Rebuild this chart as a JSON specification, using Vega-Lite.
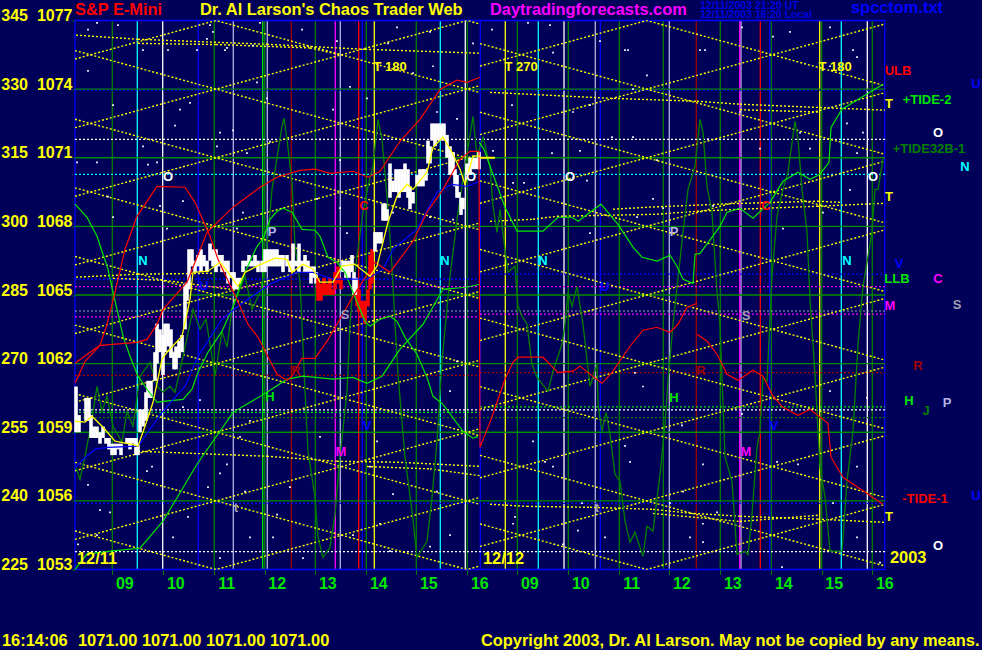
{"$schema":"https://vega.github.io/schema/vega-lite/v6.json","width":810,"height":549,"autosize":{"type":"none"},"padding":{"left":75,"top":20.5,"right":97,"bottom":80.5},"background":"#000058","config":{"view":{"stroke":null},"text":{"font":"Liberation Sans"}},
"datasets":{
"verts":[{"bar":37.3,"price":1053,"price2":1077,"tone":"green"},{"bar":139.3,"price":1053,"price2":1077,"tone":"green"},{"bar":189.7,"price":1053,"price2":1077,"tone":"green"},{"bar":240.3,"price":1053,"price2":1077,"tone":"green"},{"bar":291.3,"price":1053,"price2":1077,"tone":"green"},{"bar":341.3,"price":1053,"price2":1077,"tone":"green"},{"bar":392.3,"price":1053,"price2":1077,"tone":"green"},{"bar":442.3,"price":1053,"price2":1077,"tone":"green"},{"bar":493.3,"price":1053,"price2":1077,"tone":"green"},{"bar":544.3,"price":1053,"price2":1077,"tone":"green"},{"bar":588.3,"price":1053,"price2":1077,"tone":"green"},{"bar":645.3,"price":1053,"price2":1077,"tone":"green"},{"bar":696.3,"price":1053,"price2":1077,"tone":"green"},{"bar":746.7,"price":1053,"price2":1077,"tone":"green"},{"bar":797.3,"price":1053,"price2":1077,"tone":"green"},{"bar":187.7,"price":1053,"price2":1077,"tone":"lime"},{"bar":62.3,"price":1053,"price2":1077,"tone":"cyan"},{"bar":365.3,"price":1053,"price2":1077,"tone":"cyan"},{"bar":463.3,"price":1053,"price2":1077,"tone":"cyan"},{"bar":766.3,"price":1053,"price2":1077,"tone":"cyan"},{"bar":87.7,"price":1053,"price2":1077,"tone":"white"},{"bar":390.3,"price":1053,"price2":1077,"tone":"white"},{"bar":489,"price":1053,"price2":1077,"tone":"white"},{"bar":792.3,"price":1053,"price2":1077,"tone":"white"},{"bar":123.3,"price":1053,"price2":1077,"tone":"blue"},{"bar":287.3,"price":1053,"price2":1077,"tone":"blue"},{"bar":405.3,"price":1053,"price2":1077,"tone":"blue"},{"bar":525.3,"price":1053,"price2":1077,"tone":"blue"},{"bar":694.7,"price":1053,"price2":1077,"tone":"blue"},{"bar":0,"price":1053,"price2":1077,"tone":"blue"},{"bar":809.7,"price":1053,"price2":1077,"tone":"blue"},{"bar":158.3,"price":1053,"price2":1077,"tone":"lavender"},{"bar":192.3,"price":1053,"price2":1077,"tone":"lavender"},{"bar":265.3,"price":1053,"price2":1077,"tone":"lavender"},{"bar":520.3,"price":1053,"price2":1077,"tone":"lavender"},{"bar":594.3,"price":1053,"price2":1077,"tone":"lavender"},{"bar":666,"price":1053,"price2":1077,"tone":"lavender"},{"bar":216.3,"price":1053,"price2":1077,"tone":"maroon"},{"bar":283.7,"price":1053,"price2":1077,"tone":"red"},{"bar":621.3,"price":1053,"price2":1077,"tone":"maroon"},{"bar":685.3,"price":1053,"price2":1077,"tone":"red"},{"bar":260.3,"price":1053,"price2":1077,"tone":"magenta"},{"bar":664.7,"price":1053,"price2":1077,"tone":"magenta"},{"bar":299.3,"price":1053,"price2":1077,"tone":"yellow"},{"bar":430.3,"price":1053,"price2":1077,"tone":"yellow"},{"bar":744.7,"price":1053,"price2":1077,"tone":"yellow"}],
"solid":[{"bar":0,"bar2":810,"price":1056,"tone":"grid"},{"bar":0,"bar2":810,"price":1059,"tone":"grid"},{"bar":0,"bar2":810,"price":1062,"tone":"grid"},{"bar":0,"bar2":810,"price":1065,"tone":"grid"},{"bar":0,"bar2":810,"price":1068,"tone":"grid"},{"bar":0,"bar2":810,"price":1071,"tone":"grid"},{"bar":0,"bar2":810,"price":1074,"tone":"grid"},{"bar":0,"bar2":810,"price":1053,"tone":"blue"},{"bar":0,"bar2":810,"price":1077,"tone":"blue"}],
"hdots":[{"bar":0,"bar2":810,"price":1073.95,"tone":"blue"},{"bar":0,"bar2":810,"price":1071.8,"tone":"white"},{"bar":0,"bar2":810,"price":1070.27,"tone":"cyan"},{"bar":0,"bar2":405,"price":1065.69,"tone":"blue"},{"bar":405,"bar2":810,"price":1065.91,"tone":"blue"},{"bar":0,"bar2":810,"price":1065.37,"tone":"magenta"},{"bar":0,"bar2":810,"price":1064.3,"tone":"gray"},{"bar":0,"bar2":405,"price":1064.04,"tone":"magenta"},{"bar":405,"bar2":810,"price":1064.16,"tone":"magenta"},{"bar":0,"bar2":405,"price":1061.49,"tone":"maroon"},{"bar":405,"bar2":810,"price":1061.61,"tone":"maroon"},{"bar":0,"bar2":810,"price":1059.98,"tone":"white"},{"bar":0,"bar2":405,"price":1059.87,"tone":"lime"},{"bar":405,"bar2":810,"price":1060.11,"tone":"lime"},{"bar":0,"bar2":810,"price":1059.64,"tone":"green"},{"bar":0,"bar2":810,"price":1055.89,"tone":"blue"},{"bar":0,"bar2":810,"price":1053.78,"tone":"white"}],
"lattice":[
{"bar":0,"bar2":405,"price":1048.315,"price2":1053.155},{"bar":0,"bar2":405,"price":1051.315,"price2":1056.155},{"bar":0,"bar2":405,"price":1054.315,"price2":1059.155},{"bar":0,"bar2":405,"price":1057.315,"price2":1062.155},{"bar":0,"bar2":405,"price":1060.315,"price2":1065.155},{"bar":0,"bar2":405,"price":1063.315,"price2":1068.155},{"bar":0,"bar2":405,"price":1066.315,"price2":1071.155},{"bar":0,"bar2":405,"price":1069.315,"price2":1074.155},{"bar":0,"bar2":405,"price":1072.315,"price2":1077.155},{"bar":0,"bar2":405,"price":1075.315,"price2":1080.155},
{"bar":0,"bar2":405,"price":1081.685,"price2":1076.845},{"bar":0,"bar2":405,"price":1078.685,"price2":1073.845},{"bar":0,"bar2":405,"price":1075.685,"price2":1070.845},{"bar":0,"bar2":405,"price":1072.685,"price2":1067.845},{"bar":0,"bar2":405,"price":1069.685,"price2":1064.845},{"bar":0,"bar2":405,"price":1066.685,"price2":1061.845},{"bar":0,"bar2":405,"price":1063.685,"price2":1058.845},{"bar":0,"bar2":405,"price":1060.685,"price2":1055.845},{"bar":0,"bar2":405,"price":1057.685,"price2":1052.845},{"bar":0,"bar2":405,"price":1054.685,"price2":1049.845},
{"bar":405,"bar2":810,"price":1051.008,"price2":1055.848},{"bar":405,"bar2":810,"price":1054.008,"price2":1058.848},{"bar":405,"bar2":810,"price":1057.008,"price2":1061.848},{"bar":405,"bar2":810,"price":1060.008,"price2":1064.848},{"bar":405,"bar2":810,"price":1063.008,"price2":1067.848},{"bar":405,"bar2":810,"price":1066.008,"price2":1070.848},{"bar":405,"bar2":810,"price":1069.008,"price2":1073.848},{"bar":405,"bar2":810,"price":1072.008,"price2":1076.848},{"bar":405,"bar2":810,"price":1075.008,"price2":1079.848},
{"bar":405,"bar2":810,"price":1078.992,"price2":1074.152},{"bar":405,"bar2":810,"price":1075.992,"price2":1071.152},{"bar":405,"bar2":810,"price":1072.992,"price2":1068.152},{"bar":405,"bar2":810,"price":1069.992,"price2":1065.152},{"bar":405,"bar2":810,"price":1066.992,"price2":1062.152},{"bar":405,"bar2":810,"price":1063.992,"price2":1059.152},{"bar":405,"bar2":810,"price":1060.992,"price2":1056.152},{"bar":405,"bar2":810,"price":1057.992,"price2":1053.152},{"bar":405,"bar2":810,"price":1054.992,"price2":1050.152},
{"bar":1,"bar2":63,"price":1076.36,"price2":1076.18},{"bar":63,"bar2":192,"price":1076.18,"price2":1075.96},{"bar":192,"bar2":290,"price":1075.96,"price2":1075.74},{"bar":290,"bar2":405,"price":1075.74,"price2":1075.57},
{"bar":63,"bar2":141,"price":1076.0,"price2":1075.95},{"bar":141,"bar2":235,"price":1075.95,"price2":1075.8},{"bar":235,"bar2":265,"price":1075.8,"price2":1075.5},
{"bar":1,"bar2":63,"price":1065.78,"price2":1065.91},{"bar":63,"bar2":138,"price":1065.91,"price2":1065.95},{"bar":38,"bar2":90,"price":1065.73,"price2":1065.64},{"bar":90,"bar2":155,"price":1065.64,"price2":1065.25},
{"bar":63,"bar2":192,"price":1058.17,"price2":1057.95},{"bar":192,"bar2":262,"price":1057.95,"price2":1057.73},{"bar":262,"bar2":322,"price":1057.73,"price2":1057.69},{"bar":322,"bar2":405,"price":1057.69,"price2":1057.51},{"bar":292,"bar2":355,"price":1057.5,"price2":1057.4},{"bar":355,"bar2":405,"price":1057.4,"price2":1057.1},
{"bar":415,"bar2":535,"price":1073.86,"price2":1073.6},{"bar":535,"bar2":622,"price":1073.6,"price2":1073.47},{"bar":622,"bar2":665,"price":1073.47,"price2":1073.34},{"bar":665,"bar2":810,"price":1073.34,"price2":1073.08},{"bar":665,"bar2":743,"price":1073.1,"price2":1073.0},
{"bar":415,"bar2":458,"price":1068.22,"price2":1068.31},{"bar":458,"bar2":482,"price":1068.31,"price2":1068.44},{"bar":482,"bar2":582,"price":1068.44,"price2":1068.53},{"bar":582,"bar2":622,"price":1068.53,"price2":1068.66},{"bar":622,"bar2":665,"price":1068.66,"price2":1068.75},{"bar":665,"bar2":742,"price":1068.75,"price2":1068.88},{"bar":742,"bar2":810,"price":1068.88,"price2":1069.01},{"bar":538,"bar2":578,"price":1068.75,"price2":1068.85},{"bar":578,"bar2":662,"price":1068.85,"price2":1069.0},{"bar":662,"bar2":743,"price":1069.0,"price2":1069.1},{"bar":743,"bar2":765,"price":1069.1,"price2":1069.05},
{"bar":415,"bar2":452,"price":1055.85,"price2":1055.76},{"bar":452,"bar2":515,"price":1055.76,"price2":1055.72},{"bar":515,"bar2":578,"price":1055.72,"price2":1055.63},{"bar":578,"bar2":615,"price":1055.63,"price2":1055.46},{"bar":615,"bar2":665,"price":1055.46,"price2":1055.33},{"bar":665,"bar2":743,"price":1055.33,"price2":1055.2},{"bar":743,"bar2":810,"price":1055.2,"price2":1055.06},{"bar":578,"bar2":665,"price":1055.45,"price2":1055.1},{"bar":665,"bar2":743,"price":1055.1,"price2":1055.37}],
"stars":[{"bar":22,"price":1076.9},{"bar":43,"price":1076.8},{"bar":13,"price":1076.6},{"bar":138,"price":1076.5},{"bar":135,"price":1076.8},{"bar":132,"price":1076.2},{"bar":152,"price":1075.8},{"bar":122,"price":1075.7},{"bar":150,"price":1075.7},{"bar":185,"price":1076.9},{"bar":227,"price":1076.6},{"bar":322,"price":1076.7},{"bar":355,"price":1076.5},{"bar":262,"price":1076.1},{"bar":313,"price":1076},{"bar":93,"price":1075.7},{"bar":178,"price":1075.9},{"bar":13,"price":1074.8},{"bar":68,"price":1075.7},{"bar":115,"price":1073.4},{"bar":105,"price":1073.1},{"bar":100,"price":1072.4},{"bar":68,"price":1071.5},{"bar":38,"price":1073.3},{"bar":73,"price":1070.7},{"bar":82,"price":1070.8},{"bar":22,"price":1070.8},{"bar":2,"price":1070.8},{"bar":182,"price":1074.3},{"bar":192,"price":1073.6},{"bar":158,"price":1072.2},{"bar":145,"price":1072.1},{"bar":142,"price":1071.5},{"bar":172,"price":1071.2},{"bar":195,"price":1071.7},{"bar":245,"price":1071.8},{"bar":258,"price":1073.1},{"bar":275,"price":1074.1},{"bar":292,"price":1073.6},{"bar":338,"price":1074.7},{"bar":358,"price":1075},{"bar":398,"price":1076},{"bar":382,"price":1072.7},{"bar":362,"price":1073},{"bar":108,"price":1069.1},{"bar":38,"price":1068.4},{"bar":33,"price":1069.3},{"bar":85,"price":1068.9},{"bar":92,"price":1067.9},{"bar":162,"price":1067.9},{"bar":168,"price":1068.6},{"bar":242,"price":1069.2},{"bar":265,"price":1068.8},{"bar":272,"price":1067.7},{"bar":318,"price":1068.6},{"bar":355,"price":1068.4},{"bar":378,"price":1068.3},{"bar":265,"price":1070.9},{"bar":25,"price":1055.6},{"bar":13,"price":1056.7},{"bar":35,"price":1055.5},{"bar":72,"price":1057.3},{"bar":77,"price":1057.5},{"bar":113,"price":1055.3},{"bar":98,"price":1054.4},{"bar":145,"price":1057.2},{"bar":133,"price":1056.6},{"bar":152,"price":1057.6},{"bar":170,"price":1056.4},{"bar":175,"price":1054.4},{"bar":198,"price":1054.4},{"bar":202,"price":1055.4},{"bar":228,"price":1053.5},{"bar":215,"price":1056.6},{"bar":245,"price":1058.8},{"bar":295,"price":1057.5},{"bar":318,"price":1056.3},{"bar":278,"price":1054.5},{"bar":305,"price":1055},{"bar":362,"price":1056.4},{"bar":355,"price":1054},{"bar":375,"price":1054.5},{"bar":165,"price":1058.8},{"bar":175,"price":1059.5},{"bar":3,"price":1054.1},{"bar":145,"price":1053.5},{"bar":315,"price":1053.8},{"bar":302,"price":1058.6},{"bar":375,"price":1060.8},{"bar":382,"price":1062.1},{"bar":108,"price":1060.1},{"bar":125,"price":1060.4},{"bar":22,"price":1054.5},{"bar":453,"price":1076.9},{"bar":417,"price":1076.6},{"bar":550,"price":1075.7},{"bar":553,"price":1075.7},{"bar":525,"price":1076.1},{"bar":478,"price":1075.6},{"bar":475,"price":1076.8},{"bar":625,"price":1075.7},{"bar":630,"price":1075.7},{"bar":667,"price":1076.7},{"bar":715,"price":1076.5},{"bar":755,"price":1076.7},{"bar":778,"price":1075.7},{"bar":782,"price":1075.4},{"bar":698,"price":1076.3},{"bar":558,"price":1074},{"bar":572,"price":1074.6},{"bar":437,"price":1073.3},{"bar":498,"price":1073},{"bar":515,"price":1073.3},{"bar":477,"price":1071.2},{"bar":505,"price":1071.3},{"bar":537,"price":1071.9},{"bar":558,"price":1071.9},{"bar":582,"price":1070.9},{"bar":633,"price":1071.8},{"bar":665,"price":1073},{"bar":685,"price":1071.4},{"bar":755,"price":1075},{"bar":788,"price":1072.1},{"bar":782,"price":1071.2},{"bar":772,"price":1072.5},{"bar":418,"price":1071.3},{"bar":438,"price":1069.9},{"bar":449,"price":1069.9},{"bar":512,"price":1070},{"bar":578,"price":1069.2},{"bar":588,"price":1068.8},{"bar":725,"price":1072.1},{"bar":735,"price":1071.4},{"bar":562,"price":1068.4},{"bar":515,"price":1067.7},{"bar":638,"price":1068.9},{"bar":775,"price":1069.6},{"bar":748,"price":1068.6},{"bar":708,"price":1067.9},{"bar":440,"price":1055.3},{"bar":438,"price":1055},{"bar":470,"price":1057.7},{"bar":478,"price":1057.5},{"bar":458,"price":1058.6},{"bar":503,"price":1054.7},{"bar":507,"price":1055.9},{"bar":488,"price":1054.1},{"bar":530,"price":1054.4},{"bar":568,"price":1061},{"bar":560,"price":1061.6},{"bar":555,"price":1057.7},{"bar":550,"price":1058.4},{"bar":607,"price":1059.3},{"bar":608,"price":1056.4},{"bar":628,"price":1057.6},{"bar":628,"price":1055},{"bar":628,"price":1054.2},{"bar":642,"price":1055.5},{"bar":615,"price":1054.4},{"bar":667,"price":1059.8},{"bar":702,"price":1057.7},{"bar":707,"price":1053.1},{"bar":782,"price":1057.5},{"bar":755,"price":1060.8},{"bar":792,"price":1060.5},{"bar":782,"price":1054.4},{"bar":805,"price":1053.3},{"bar":723,"price":1057.6},{"bar":595,"price":1055.9},{"bar":758,"price":1055.9}],
"tide32":[{"bar":1,"price":1057.47},{"bar":5,"price":1056.94},{"bar":10,"price":1057.95},{"bar":17,"price":1059.57},{"bar":22,"price":1061.01},{"bar":27,"price":1059.92},{"bar":32,"price":1060.57},{"bar":38,"price":1059.26},{"bar":47,"price":1058.56},{"bar":52,"price":1059.92},{"bar":58,"price":1059.26},{"bar":65,"price":1061.45},{"bar":75,"price":1062.06},{"bar":82,"price":1061.01},{"bar":88,"price":1060.75},{"bar":95,"price":1061.01},{"bar":100,"price":1060.75},{"bar":108,"price":1062.32},{"bar":118,"price":1064.37},{"bar":125,"price":1063.5},{"bar":131,"price":1063.94},{"bar":140,"price":1061.45},{"bar":147,"price":1063.41},{"bar":152,"price":1062.72},{"bar":157,"price":1064.37},{"bar":170,"price":1065.82},{"bar":177,"price":1064.37},{"bar":185,"price":1065.12},{"bar":190,"price":1066.13},{"bar":197,"price":1069.62},{"bar":207,"price":1072.38},{"bar":209,"price":1072.73},{"bar":212,"price":1071.81},{"bar":217,"price":1069.93},{"bar":220,"price":1067.13},{"bar":225,"price":1065.56},{"bar":227,"price":1063.72},{"bar":230,"price":1060.79},{"bar":233,"price":1058.17},{"bar":240,"price":1056.16},{"bar":243,"price":1054.41},{"bar":248,"price":1053.53},{"bar":255,"price":1053.97},{"bar":260,"price":1055.41},{"bar":262,"price":1056.42},{"bar":265,"price":1057.91},{"bar":272,"price":1060.79},{"bar":275,"price":1063.72},{"bar":278,"price":1065.38},{"bar":288,"price":1068.62},{"bar":293,"price":1069.75},{"bar":298,"price":1070.63},{"bar":303,"price":1072.68},{"bar":307,"price":1071.81},{"bar":312,"price":1069.32},{"bar":317,"price":1066.26},{"bar":320,"price":1063.72},{"bar":323,"price":1061.53},{"bar":330,"price":1057.91},{"bar":337,"price":1055.55},{"bar":342,"price":1053.53},{"bar":352,"price":1054.23},{"bar":357,"price":1056.16},{"bar":362,"price":1058.61},{"bar":367,"price":1062.1},{"bar":375,"price":1065.82},{"bar":383,"price":1068.62},{"bar":390,"price":1070.63},{"bar":398,"price":1072.81},{"bar":402,"price":1071.07},{"bar":408,"price":1071.9},{"bar":415,"price":1070.63},{"bar":418,"price":1068.88},{"bar":422,"price":1067.74},{"bar":425,"price":1068.75},{"bar":430,"price":1067},{"bar":433,"price":1066},{"bar":440,"price":1066.26},{"bar":443,"price":1064.51},{"bar":447,"price":1064.07},{"bar":452,"price":1063.72},{"bar":457,"price":1061.97},{"bar":462,"price":1061.4},{"bar":473,"price":1060.79},{"bar":478,"price":1061.67},{"bar":487,"price":1062.85},{"bar":490,"price":1063.72},{"bar":493,"price":1065.12},{"bar":497,"price":1064.51},{"bar":502,"price":1065.38},{"bar":508,"price":1063.72},{"bar":515,"price":1061.01},{"bar":522,"price":1061.97},{"bar":523,"price":1060.22},{"bar":527,"price":1059.04},{"bar":531,"price":1059.87},{"bar":535,"price":1058.91},{"bar":540,"price":1057.16},{"bar":545,"price":1056.86},{"bar":550,"price":1055.11},{"bar":555,"price":1054.19},{"bar":560,"price":1054.63},{"bar":568,"price":1053.58},{"bar":572,"price":1054.89},{"bar":578,"price":1054.67},{"bar":585,"price":1057.16},{"bar":590,"price":1059.35},{"bar":593,"price":1061.23},{"bar":598,"price":1063.72},{"bar":608,"price":1067.74},{"bar":613,"price":1069.62},{"bar":620,"price":1070.63},{"bar":625,"price":1072.68},{"bar":628,"price":1072.12},{"bar":632,"price":1069.75},{"bar":637,"price":1068.62},{"bar":642,"price":1065.12},{"bar":645,"price":1063.72},{"bar":650,"price":1057.91},{"bar":657,"price":1056.86},{"bar":662,"price":1053.66},{"bar":670,"price":1053.8},{"bar":673,"price":1053.66},{"bar":677,"price":1055.41},{"bar":682,"price":1058.34},{"bar":685,"price":1059.04},{"bar":688,"price":1061.4},{"bar":692,"price":1061.23},{"bar":697,"price":1065.82},{"bar":702,"price":1068.44},{"bar":708,"price":1069.62},{"bar":713,"price":1070.37},{"bar":720,"price":1072.6},{"bar":723,"price":1071.81},{"bar":727,"price":1069.62},{"bar":732,"price":1067.74},{"bar":735,"price":1064.81},{"bar":740,"price":1061.53},{"bar":745,"price":1057.47},{"bar":750,"price":1056.16},{"bar":755,"price":1053.8},{"bar":767,"price":1053.8},{"bar":772,"price":1056.86},{"bar":778,"price":1059.04},{"bar":783,"price":1062.85},{"bar":788,"price":1065.38},{"bar":797,"price":1067.74},{"bar":800,"price":1069.62},{"bar":803,"price":1069.62},{"bar":808,"price":1070.94}],
"prices":[{"bar":1,"price":1061,"low":1059,"tone":"white"},{"bar":4,"price":1059.75,"low":1059,"tone":"white"},{"bar":11,"price":1060.5,"low":1059.5,"tone":"white"},{"bar":14,"price":1060.5,"low":1059.5,"tone":"white"},{"bar":16,"price":1059.75,"low":1058.75,"tone":"white"},{"bar":19,"price":1059.25,"low":1058.75,"tone":"white"},{"bar":22,"price":1059.25,"low":1058.75,"tone":"white"},{"bar":25,"price":1059,"low":1058.5,"tone":"white"},{"bar":28,"price":1059.25,"low":1058.75,"tone":"white"},{"bar":31,"price":1058.75,"low":1058.5,"tone":"white"},{"bar":34,"price":1058.75,"low":1058.25,"tone":"white"},{"bar":37,"price":1058.5,"low":1058,"tone":"white"},{"bar":40,"price":1058.5,"low":1058,"tone":"white"},{"bar":43,"price":1058.5,"low":1058.25,"tone":"white"},{"bar":46,"price":1058.5,"low":1058,"tone":"white"},{"bar":52,"price":1058.75,"low":1058.5,"tone":"white"},{"bar":55,"price":1058.75,"low":1058.25,"tone":"white"},{"bar":58,"price":1058.75,"low":1058.5,"tone":"white"},{"bar":61,"price":1058.75,"low":1058,"tone":"white"},{"bar":63,"price":1058.5,"low":1058,"tone":"white"},{"bar":65,"price":1060,"low":1059,"tone":"white"},{"bar":68,"price":1060,"low":1059.25,"tone":"white"},{"bar":71,"price":1060.75,"low":1059.5,"tone":"white"},{"bar":73,"price":1061.25,"low":1060.5,"tone":"white"},{"bar":76,"price":1061.25,"low":1060.5,"tone":"white"},{"bar":80,"price":1062.5,"low":1061.25,"tone":"white"},{"bar":82,"price":1063.75,"low":1062,"tone":"white"},{"bar":85,"price":1063.5,"low":1062.5,"tone":"white"},{"bar":88,"price":1063.25,"low":1061.5,"tone":"white"},{"bar":90,"price":1063.75,"low":1062.5,"tone":"white"},{"bar":93,"price":1063.75,"low":1062.75,"tone":"white"},{"bar":96,"price":1063.5,"low":1062.25,"tone":"white"},{"bar":99,"price":1062.5,"low":1061.75,"tone":"white"},{"bar":101,"price":1062.75,"low":1061.75,"tone":"white"},{"bar":104,"price":1063,"low":1062.25,"tone":"white"},{"bar":107,"price":1063.25,"low":1062.5,"tone":"white"},{"bar":110,"price":1065.5,"low":1063.5,"tone":"white"},{"bar":112,"price":1065.5,"low":1064.75,"tone":"white"},{"bar":114,"price":1067,"low":1065.25,"tone":"white"},{"bar":117,"price":1067,"low":1066.25,"tone":"white"},{"bar":120,"price":1066.5,"low":1066,"tone":"white"},{"bar":123,"price":1066.75,"low":1066.25,"tone":"white"},{"bar":126,"price":1067,"low":1066,"tone":"white"},{"bar":129,"price":1066.75,"low":1066.25,"tone":"white"},{"bar":132,"price":1066.5,"low":1066,"tone":"white"},{"bar":135,"price":1067.25,"low":1066.5,"tone":"white"},{"bar":138,"price":1067,"low":1066.25,"tone":"white"},{"bar":141,"price":1067,"low":1066,"tone":"white"},{"bar":144,"price":1066.75,"low":1066.25,"tone":"white"},{"bar":147,"price":1066.75,"low":1066,"tone":"white"},{"bar":150,"price":1066.5,"low":1066,"tone":"white"},{"bar":153,"price":1066.5,"low":1065.5,"tone":"white"},{"bar":156,"price":1066,"low":1065.75,"tone":"white"},{"bar":159,"price":1066,"low":1065.25,"tone":"white"},{"bar":162,"price":1065.75,"low":1065.25,"tone":"white"},{"bar":165,"price":1065.75,"low":1065.5,"tone":"white"},{"bar":168,"price":1066.5,"low":1066,"tone":"white"},{"bar":171,"price":1066.5,"low":1066.25,"tone":"white"},{"bar":174,"price":1066.75,"low":1066.25,"tone":"white"},{"bar":177,"price":1066.5,"low":1066.25,"tone":"white"},{"bar":180,"price":1066.75,"low":1066.25,"tone":"white"},{"bar":183,"price":1066.5,"low":1066,"tone":"white"},{"bar":187,"price":1066.5,"low":1066,"tone":"white"},{"bar":190,"price":1067,"low":1066,"tone":"white"},{"bar":193,"price":1067,"low":1066.25,"tone":"white"},{"bar":196,"price":1067,"low":1066.25,"tone":"white"},{"bar":199,"price":1067,"low":1066.25,"tone":"white"},{"bar":202,"price":1067,"low":1066.25,"tone":"white"},{"bar":205,"price":1066.75,"low":1066.25,"tone":"white"},{"bar":208,"price":1066.75,"low":1066,"tone":"white"},{"bar":212,"price":1066.75,"low":1066.25,"tone":"white"},{"bar":215,"price":1066.5,"low":1066,"tone":"white"},{"bar":218,"price":1067.25,"low":1066,"tone":"white"},{"bar":221,"price":1066.5,"low":1066.25,"tone":"white"},{"bar":224,"price":1067.25,"low":1066,"tone":"white"},{"bar":227,"price":1066.5,"low":1066.25,"tone":"white"},{"bar":230,"price":1066.75,"low":1066,"tone":"white"},{"bar":233,"price":1066.5,"low":1066,"tone":"white"},{"bar":236,"price":1066.25,"low":1065.5,"tone":"white"},{"bar":239,"price":1066.25,"low":1065.75,"tone":"white"},{"bar":241,"price":1066,"low":1065.5,"tone":"white"},{"bar":243,"price":1065.75,"low":1064.75,"tone":"red"},{"bar":246,"price":1065.5,"low":1064.75,"tone":"red"},{"bar":249,"price":1065.75,"low":1065,"tone":"red"},{"bar":252,"price":1065.5,"low":1065,"tone":"red"},{"bar":255,"price":1065.75,"low":1065,"tone":"red"},{"bar":258,"price":1065.25,"low":1065,"tone":"red"},{"bar":260,"price":1066,"low":1065.25,"tone":"red"},{"bar":263,"price":1066.25,"low":1065.5,"tone":"red"},{"bar":266,"price":1065.75,"low":1065.25,"tone":"red"},{"bar":268,"price":1066.5,"low":1066,"tone":"white"},{"bar":271,"price":1066.5,"low":1065.75,"tone":"white"},{"bar":274,"price":1066.5,"low":1065.75,"tone":"white"},{"bar":277,"price":1066.75,"low":1066,"tone":"white"},{"bar":279,"price":1066,"low":1065,"tone":"white"},{"bar":281,"price":1065.75,"low":1065,"tone":"white"},{"bar":282,"price":1065,"low":1064.5,"tone":"red"},{"bar":284,"price":1065.25,"low":1064.25,"tone":"red"},{"bar":287,"price":1064.75,"low":1064,"tone":"red"},{"bar":290,"price":1064.75,"low":1063.75,"tone":"red"},{"bar":293,"price":1065.25,"low":1064.5,"tone":"red"},{"bar":295,"price":1066.75,"low":1065.25,"tone":"red"},{"bar":297,"price":1067,"low":1065.5,"tone":"red"},{"bar":300,"price":1067.75,"low":1066.9,"tone":"white"},{"bar":303,"price":1067.75,"low":1067.25,"tone":"white"},{"bar":306,"price":1067.75,"low":1067.25,"tone":"white"},{"bar":308,"price":1069,"low":1068.25,"tone":"white"},{"bar":310,"price":1069,"low":1068.25,"tone":"white"},{"bar":312,"price":1068.75,"low":1068.25,"tone":"white"},{"bar":315,"price":1070.75,"low":1069.25,"tone":"white"},{"bar":318,"price":1070,"low":1069.5,"tone":"white"},{"bar":321,"price":1070.5,"low":1069.5,"tone":"white"},{"bar":324,"price":1070.5,"low":1069.25,"tone":"white"},{"bar":327,"price":1070.5,"low":1069.5,"tone":"white"},{"bar":330,"price":1070.75,"low":1069.5,"tone":"white"},{"bar":333,"price":1070.5,"low":1069.25,"tone":"white"},{"bar":335,"price":1069.75,"low":1068.75,"tone":"white"},{"bar":338,"price":1069.5,"low":1069,"tone":"white"},{"bar":342,"price":1070.25,"low":1069.75,"tone":"white"},{"bar":345,"price":1070.5,"low":1069.75,"tone":"white"},{"bar":348,"price":1070.5,"low":1069.75,"tone":"white"},{"bar":351,"price":1070.5,"low":1070,"tone":"white"},{"bar":353,"price":1071.75,"low":1070.75,"tone":"white"},{"bar":355,"price":1071.5,"low":1070.75,"tone":"white"},{"bar":357,"price":1072.5,"low":1071.75,"tone":"white"},{"bar":360,"price":1072.5,"low":1071.5,"tone":"white"},{"bar":363,"price":1072.5,"low":1071.75,"tone":"white"},{"bar":366,"price":1072.5,"low":1071.75,"tone":"white"},{"bar":369,"price":1072.5,"low":1071.75,"tone":"white"},{"bar":372,"price":1072,"low":1071,"tone":"white"},{"bar":375,"price":1071.5,"low":1070.25,"tone":"white"},{"bar":378,"price":1071.25,"low":1070.25,"tone":"white"},{"bar":380,"price":1070.5,"low":1069.75,"tone":"white"},{"bar":382,"price":1070.25,"low":1069.25,"tone":"white"},{"bar":384,"price":1069.5,"low":1069.25,"tone":"white"},{"bar":386,"price":1069.25,"low":1068.5,"tone":"white"},{"bar":388,"price":1069.25,"low":1068.75,"tone":"white"},{"bar":392,"price":1070.75,"low":1070.25,"tone":"white"},{"bar":395,"price":1071,"low":1070.25,"tone":"white"},{"bar":398,"price":1071,"low":1070.5,"tone":"white"},{"bar":401,"price":1071,"low":1070.5,"tone":"white"},{"bar":404,"price":1071.25,"low":1070.5,"tone":"white"}],
"tide2":[{"seg":"a","bar":0,"price":1053.01},{"seg":"a","bar":12,"price":1053.67},{"seg":"a","bar":35,"price":1053.8},{"seg":"a","bar":65,"price":1053.93},{"seg":"a","bar":88,"price":1055.11},{"seg":"a","bar":122,"price":1057.6},{"seg":"a","bar":158,"price":1059.87},{"seg":"a","bar":192,"price":1060.75},{"seg":"a","bar":212,"price":1061.32},{"seg":"a","bar":228,"price":1061.45},{"seg":"a","bar":258,"price":1061.32},{"seg":"a","bar":278,"price":1061.4},{"seg":"a","bar":292,"price":1061.14},{"seg":"a","bar":307,"price":1061.45},{"seg":"a","bar":325,"price":1062.63},{"seg":"a","bar":348,"price":1063.72},{"seg":"a","bar":368,"price":1065.25},{"seg":"a","bar":391,"price":1065.34},{"seg":"a","bar":405,"price":1065.47},
{"seg":"b","bar":0,"price":1068.97},{"seg":"b","bar":12,"price":1068.4},{"seg":"b","bar":22,"price":1067.57},{"seg":"b","bar":28,"price":1066.78},{"seg":"b","bar":33,"price":1066.13},{"seg":"b","bar":38,"price":1065.12},{"seg":"b","bar":42,"price":1064.38},{"seg":"b","bar":48,"price":1063.2},{"seg":"b","bar":55,"price":1062.32},{"seg":"b","bar":63,"price":1061.45},{"seg":"b","bar":72,"price":1060.88},{"seg":"b","bar":82,"price":1060.31},{"seg":"b","bar":88,"price":1060.35},{"seg":"b","bar":108,"price":1060.44},{"seg":"b","bar":117,"price":1060.88},{"seg":"b","bar":123,"price":1061.62},{"seg":"b","bar":133,"price":1062.5},{"seg":"b","bar":147,"price":1063.42},{"seg":"b","bar":157,"price":1064.38},{"seg":"b","bar":170,"price":1066},{"seg":"b","bar":182,"price":1067.13},{"seg":"b","bar":188,"price":1067.44},{"seg":"b","bar":195,"price":1068.31},{"seg":"b","bar":202,"price":1068.66},{"seg":"b","bar":208,"price":1068.79},{"seg":"b","bar":217,"price":1068.62},{"seg":"b","bar":227,"price":1067.87},{"seg":"b","bar":240,"price":1067.83},{"seg":"b","bar":245,"price":1067.57},{"seg":"b","bar":253,"price":1066.65},{"seg":"b","bar":262,"price":1066.43},{"seg":"b","bar":270,"price":1065.99},{"seg":"b","bar":278,"price":1065.12},{"seg":"b","bar":285,"price":1064.38},{"seg":"b","bar":290,"price":1063.85},{"seg":"b","bar":295,"price":1063.63},{"seg":"b","bar":305,"price":1063.94},{"seg":"b","bar":315,"price":1064.07},{"seg":"b","bar":322,"price":1063.85},{"seg":"b","bar":330,"price":1063.15},{"seg":"b","bar":342,"price":1062.41},{"seg":"b","bar":352,"price":1061.4},{"seg":"b","bar":358,"price":1060.57},{"seg":"b","bar":368,"price":1060.22},{"seg":"b","bar":388,"price":1059.04},{"seg":"b","bar":398,"price":1058.74},{"seg":"b","bar":403,"price":1058.82},
{"seg":"c","bar":404,"price":1071.68},{"seg":"c","bar":409,"price":1071.37},{"seg":"c","bar":415,"price":1070.63},{"seg":"c","bar":430,"price":1068.84},{"seg":"c","bar":442,"price":1067.79},{"seg":"c","bar":468,"price":1067.79},{"seg":"c","bar":483,"price":1068.4},{"seg":"c","bar":497,"price":1068.4},{"seg":"c","bar":503,"price":1068.22},{"seg":"c","bar":526,"price":1068.97},{"seg":"c","bar":543,"price":1068.09},{"seg":"c","bar":558,"price":1067.09},{"seg":"c","bar":567,"price":1066.65},{"seg":"c","bar":582,"price":1066.48},{"seg":"c","bar":595,"price":1066.74},{"seg":"c","bar":602,"price":1066.26},{"seg":"c","bar":608,"price":1065.69},{"seg":"c","bar":618,"price":1065.51},{"seg":"c","bar":620,"price":1066.78},{"seg":"c","bar":625,"price":1066.82},{"seg":"c","bar":645,"price":1068},{"seg":"c","bar":652,"price":1068.62},{"seg":"c","bar":665,"price":1068.79},{"seg":"c","bar":678,"price":1068.36},{"seg":"c","bar":695,"price":1069.05},{"seg":"c","bar":708,"price":1069.97},{"seg":"c","bar":723,"price":1070.37},{"seg":"c","bar":735,"price":1070.06},{"seg":"c","bar":745,"price":1070.28},{"seg":"c","bar":754,"price":1070.8},{"seg":"c","bar":756,"price":1072.33},{"seg":"c","bar":767,"price":1073.12},{"seg":"c","bar":808,"price":1074.21}],
"blueline":[{"bar":1,"price":1057.47},{"bar":8,"price":1057.82},{"bar":20,"price":1058.26},{"bar":33,"price":1058.34},{"bar":63,"price":1058.39},{"bar":87,"price":1059.87},{"bar":110,"price":1061.01},{"bar":123,"price":1062.32},{"bar":147,"price":1063.94},{"bar":163,"price":1064.51},{"bar":183,"price":1065.12},{"bar":195,"price":1065.47},{"bar":222,"price":1065.99},{"bar":238,"price":1065.99},{"bar":258,"price":1065.69},{"bar":292,"price":1065.69},{"bar":308,"price":1066.13},{"bar":318,"price":1067},{"bar":342,"price":1067.87},{"bar":362,"price":1069.49},{"bar":377,"price":1069.84},{"bar":392,"price":1069.75},{"bar":405,"price":1069.97}],
"tide1":[{"seg":"a","bar":0,"price":1062.02},{"seg":"a","bar":15,"price":1062.5},{"seg":"a","bar":25,"price":1062.8},{"seg":"a","bar":62,"price":1062.93},{"seg":"a","bar":72,"price":1063.06},{"seg":"a","bar":82,"price":1063.72},{"seg":"a","bar":88,"price":1064.37},{"seg":"a","bar":112,"price":1065.56},{"seg":"a","bar":132,"price":1067.74},{"seg":"a","bar":158,"price":1068.84},{"seg":"a","bar":185,"price":1069.71},{"seg":"a","bar":202,"price":1070.15},{"seg":"a","bar":225,"price":1070.45},{"seg":"a","bar":240,"price":1070.5},{"seg":"a","bar":255,"price":1070.32},{"seg":"a","bar":278,"price":1070.41},{"seg":"a","bar":293,"price":1070.15},{"seg":"a","bar":305,"price":1070.41},{"seg":"a","bar":325,"price":1071.72},{"seg":"a","bar":345,"price":1072.68},{"seg":"a","bar":365,"price":1073.99},{"seg":"a","bar":382,"price":1074.39},{"seg":"a","bar":392,"price":1074.3},{"seg":"a","bar":405,"price":1074.52},
{"seg":"b","bar":0,"price":1061.14},{"seg":"b","bar":10,"price":1062.1},{"seg":"b","bar":25,"price":1062.8},{"seg":"b","bar":32,"price":1063.72},{"seg":"b","bar":40,"price":1065.12},{"seg":"b","bar":50,"price":1067},{"seg":"b","bar":62,"price":1068.44},{"seg":"b","bar":82,"price":1069.75},{"seg":"b","bar":110,"price":1069.71},{"seg":"b","bar":120,"price":1069.05},{"seg":"b","bar":135,"price":1067.57},{"seg":"b","bar":143,"price":1066.56},{"seg":"b","bar":165,"price":1064.51},{"seg":"b","bar":173,"price":1063.72},{"seg":"b","bar":183,"price":1063.15},{"seg":"b","bar":202,"price":1061.53},{"seg":"b","bar":212,"price":1061.27},{"seg":"b","bar":217,"price":1061.45},{"seg":"b","bar":227,"price":1062.23},{"seg":"b","bar":240,"price":1062.23},{"seg":"b","bar":252,"price":1062.98},{"seg":"b","bar":262,"price":1063.72},{"seg":"b","bar":278,"price":1064.94},{"seg":"b","bar":300,"price":1066.43},{"seg":"b","bar":315,"price":1065.99},{"seg":"b","bar":338,"price":1067.35},{"seg":"b","bar":352,"price":1068.62},{"seg":"b","bar":368,"price":1069.62},{"seg":"b","bar":385,"price":1070.93},{"seg":"b","bar":395,"price":1071.28},{"seg":"b","bar":404,"price":1071.28},{"seg":"b","bar":405,"price":1058.34},{"seg":"b","bar":415,"price":1059.44},{"seg":"b","bar":430,"price":1061.32},{"seg":"b","bar":438,"price":1062.06},{"seg":"b","bar":443,"price":1062.28},{"seg":"b","bar":468,"price":1062.28},{"seg":"b","bar":475,"price":1061.97},{"seg":"b","bar":483,"price":1061.62},{"seg":"b","bar":498,"price":1061.67},{"seg":"b","bar":505,"price":1061.89},{"seg":"b","bar":515,"price":1061.54},{"seg":"b","bar":527,"price":1061.14},{"seg":"b","bar":537,"price":1061.62},{"seg":"b","bar":555,"price":1062.76},{"seg":"b","bar":568,"price":1063.46},{"seg":"b","bar":582,"price":1063.59},{"seg":"b","bar":595,"price":1063.37},{"seg":"b","bar":603,"price":1063.72},{"seg":"b","bar":612,"price":1064.46},{"seg":"b","bar":622,"price":1064.64},
{"seg":"c","bar":622,"price":1063.28},{"seg":"c","bar":632,"price":1062.98},{"seg":"c","bar":642,"price":1062.41},{"seg":"c","bar":652,"price":1061.53},{"seg":"c","bar":663,"price":1061.27},{"seg":"c","bar":678,"price":1061.71},{"seg":"c","bar":688,"price":1061.45},{"seg":"c","bar":698,"price":1060.57},{"seg":"c","bar":708,"price":1060.09},{"seg":"c","bar":723,"price":1059.74},{"seg":"c","bar":735,"price":1060},{"seg":"c","bar":753,"price":1059.39},{"seg":"c","bar":756,"price":1057.91},{"seg":"c","bar":768,"price":1057.03},{"seg":"c","bar":808,"price":1055.85}],
"ma":[{"bar":0,"price":1059.48},{"bar":10,"price":1059.44},{"bar":17,"price":1059.7},{"bar":28,"price":1059.22},{"bar":40,"price":1058.61},{"bar":57,"price":1058.47},{"bar":63,"price":1058.39},{"bar":70,"price":1059.26},{"bar":78,"price":1060.31},{"bar":87,"price":1062.19},{"bar":92,"price":1062.5},{"bar":107,"price":1063.2},{"bar":115,"price":1064.81},{"bar":118,"price":1065.99},{"bar":133,"price":1066.04},{"bar":145,"price":1066.43},{"bar":153,"price":1065.99},{"bar":163,"price":1065.38},{"bar":170,"price":1065.99},{"bar":182,"price":1066.26},{"bar":200,"price":1066.61},{"bar":212,"price":1066.56},{"bar":217,"price":1065.99},{"bar":228,"price":1066.34},{"bar":238,"price":1066.13},{"bar":245,"price":1065.56},{"bar":258,"price":1065.56},{"bar":267,"price":1066.26},{"bar":280,"price":1066.34},{"bar":295,"price":1065.82},{"bar":302,"price":1066.26},{"bar":313,"price":1068.18},{"bar":322,"price":1069.32},{"bar":332,"price":1069.84},{"bar":338,"price":1069.62},{"bar":352,"price":1070.37},{"bar":358,"price":1071.46},{"bar":368,"price":1071.9},{"bar":377,"price":1071.24},{"bar":385,"price":1070.5},{"bar":390,"price":1069.84},{"bar":398,"price":1071.07},{"bar":405,"price":1071.07}],
"letters":[{"bar":93,"price":1070.15,"label":"O","tone":"white"},{"bar":68,"price":1066.48,"label":"N","tone":"cyan"},{"bar":197,"price":1067.74,"label":"P","tone":"lavender"},{"bar":315,"price":1074.96,"label":"T 180","tone":"yellow"},{"bar":289,"price":1068.88,"label":"C","tone":"red"},{"bar":270,"price":1064.11,"label":"S","tone":"gray"},{"bar":129,"price":1065.38,"label":"U","tone":"blue"},{"bar":370,"price":1066.48,"label":"N","tone":"cyan"},{"bar":396,"price":1070.15,"label":"O","tone":"white"},{"bar":446,"price":1074.96,"label":"T 270","tone":"yellow"},{"bar":495,"price":1070.15,"label":"O","tone":"white"},{"bar":468,"price":1066.48,"label":"N","tone":"cyan"},{"bar":530,"price":1065.34,"label":"U","tone":"blue"},{"bar":599,"price":1067.74,"label":"P","tone":"lavender"},{"bar":671,"price":1064.07,"label":"S","tone":"gray"},{"bar":691,"price":1068.88,"label":"C","tone":"red"},{"bar":760,"price":1074.96,"label":"T 180","tone":"yellow"},{"bar":772,"price":1066.48,"label":"N","tone":"cyan"},{"bar":798,"price":1070.15,"label":"O","tone":"white"},{"bar":823,"price":1074.78,"label":"ULB","tone":"red"},{"bar":901,"price":1074.21,"label":"U","tone":"blue"},{"bar":814,"price":1073.34,"label":"T","tone":"yellow"},{"bar":852,"price":1073.51,"label":"+TIDE-2","tone":"lime"},{"bar":863,"price":1072.07,"label":"O","tone":"white"},{"bar":854,"price":1071.37,"label":"+TIDE32B-1","tone":"green"},{"bar":890,"price":1070.58,"label":"N","tone":"cyan"},{"bar":814,"price":1069.27,"label":"T","tone":"yellow"},{"bar":824,"price":1066.35,"label":"V","tone":"blue"},{"bar":822,"price":1065.68,"label":"LLB","tone":"lime"},{"bar":863,"price":1065.69,"label":"C","tone":"magenta"},{"bar":882,"price":1064.55,"label":"S","tone":"gray"},{"bar":815,"price":1064.51,"label":"M","tone":"magenta"},{"bar":843,"price":1061.88,"label":"R","tone":"maroon"},{"bar":834,"price":1060.35,"label":"H","tone":"lime"},{"bar":851,"price":1059.92,"label":"J","tone":"green"},{"bar":872,"price":1060.27,"label":"P","tone":"lavender"},{"bar":850,"price":1056.07,"label":"-TIDE-1","tone":"red"},{"bar":901,"price":1056.2,"label":"U","tone":"blue"},{"bar":814,"price":1055.28,"label":"T","tone":"yellow"},{"bar":863,"price":1054.02,"label":"O","tone":"white"},{"bar":221,"price":1061.67,"label":"R","tone":"maroon"},{"bar":195,"price":1060.53,"label":"H","tone":"lime"},{"bar":292,"price":1059.26,"label":"V","tone":"blue"},{"bar":266,"price":1058.12,"label":"M","tone":"magenta"},{"bar":161,"price":1055.68,"label":"t","tone":"gray"},{"bar":626,"price":1061.67,"label":"R","tone":"maroon"},{"bar":599,"price":1060.49,"label":"H","tone":"lime"},{"bar":699,"price":1059.26,"label":"V","tone":"blue"},{"bar":671,"price":1058.12,"label":"M","tone":"magenta"},{"bar":522,"price":1055.68,"label":"t","tone":"gray"}],
"headers":[{"bar":0,"price":1077.45,"label":"S&P E-Mini","tone":"red"},{"bar":125,"price":1077.45,"label":"Dr. Al Larson's Chaos Trader Web","tone":"yellow"},{"bar":415,"price":1077.45,"label":"Daytradingforecasts.com","tone":"magenta"},{"bar":776,"price":1077.55,"label":"spcctom.txt","tone":"blue"},{"bar":2,"price":1053.45,"label":"12/11","tone":"yellow"},{"bar":408,"price":1053.45,"label":"12/12","tone":"yellow"},{"bar":815,"price":1053.49,"label":"2003","tone":"yellow"},{"bar":-73,"price":1049.86,"label":"16:14:06","tone":"yellow"},{"bar":3,"price":1049.86,"label":"1071.00","tone":"yellow"},{"bar":67,"price":1049.86,"label":"1071.00","tone":"yellow"},{"bar":131,"price":1049.86,"label":"1071.00","tone":"yellow"},{"bar":195,"price":1049.86,"label":"1071.00","tone":"yellow"},{"bar":406,"price":1049.86,"label":"Copyright 2003, Dr. Al Larson. May not be copied by any means.","tone":"yellow"}],
"stamps":[{"bar":625,"price":1077.65,"label":"12/11/2003 21:20 UT"},{"bar":625,"price":1077.25,"label":"12/11/2003 16:20 Local"}],
"last":[{"bar":405,"bar2":420,"price":1071}]
},
"encoding":{
"x":{"field":"bar","type":"quantitative","scale":{"domain":[0,810],"nice":false,"zero":false},"axis":{"title":null,"values":[37.3,88.3,139.3,189.7,240.3,291.3,341.3,392.3,442.3,493.3,544.3,594.3,645.3,696.3,746.7,797.3],"labelExpr":"format(9+round(((datum.value<420?datum.value:datum.value-405)-37.3)/50.7),'02d')","grid":false,"domain":false,"tickColor":"#008000","tickSize":5,"labelColor":"#00E600","labelFont":"Liberation Sans","labelFontSize":16,"labelFontWeight":"bold","labelOffset":12,"labelPadding":1,"labelOverlap":false,"labelBound":false,"labelFlush":false}},
"y":{"field":"price","type":"quantitative","scale":{"domain":[1053,1077],"nice":false,"zero":false},"axis":{"title":null,"values":[1053,1056,1059,1062,1065,1068,1071,1074,1077],"labelExpr":"format(225+(datum.value-1053)*5,'d')+'\u00a0\u00a0'+datum.value","grid":false,"domain":false,"tickColor":"#008000","tickSize":3,"labelColor":"#FFFF00","labelFont":"Liberation Sans","labelFontSize":16,"labelFontWeight":"bold","labelBaseline":"alphabetic","labelPadding":0,"labelOverlap":false,"labelBound":false,"labelFlush":false}}
},
"layer":[
{"data":{"name":"verts"},"mark":{"type":"rule","strokeWidth":1.3},"encoding":{"y2":{"field":"price2"},"color":{"field":"tone","type":"nominal","legend":null,"scale":{"domain":["green","grid","lime","cyan","white","lavender","blue","maroon","red","magenta","yellow","gray"],"range":["#008000","#008C00","#00E600","#00FFFF","#FFFFFF","#B4B4E6","#0000FF","#A00000","#FF0000","#FF00FF","#FFFF00","#A0A0B4"]}}}},
{"data":{"name":"solid"},"mark":{"type":"rule","strokeWidth":1.3},"encoding":{"x2":{"field":"bar2"},"color":{"field":"tone","type":"nominal","legend":null,"scale":{"domain":["green","grid","lime","cyan","white","lavender","blue","maroon","red","magenta","yellow","gray"],"range":["#008000","#008C00","#00E600","#00FFFF","#FFFFFF","#B4B4E6","#0000FF","#A00000","#FF0000","#FF00FF","#FFFF00","#A0A0B4"]}}}},
{"data":{"name":"hdots"},"mark":{"type":"rule","strokeWidth":1.2,"strokeDash":[2,2]},"encoding":{"x2":{"field":"bar2"},"color":{"field":"tone","type":"nominal","legend":null,"scale":{"domain":["green","grid","lime","cyan","white","lavender","blue","maroon","red","magenta","yellow","gray"],"range":["#008000","#008C00","#00E600","#00FFFF","#FFFFFF","#B4B4E6","#0000FF","#A00000","#FF0000","#FF00FF","#FFFF00","#A0A0B4"]}}}},
{"data":{"name":"lattice"},"mark":{"type":"rule","strokeWidth":1.4,"strokeDash":[2,2],"color":"#FFFF00","clip":true},"encoding":{"x2":{"field":"bar2"},"y2":{"field":"price2"}}},
{"data":{"name":"stars"},"mark":{"type":"square","size":3,"color":"#FFFFFF","opacity":1}},
{"data":{"name":"tide32"},"mark":{"type":"line","color":"#008000","strokeWidth":1.3,"clip":true}},
{"data":{"name":"prices"},"mark":{"type":"rule","strokeWidth":3.6},"encoding":{"y2":{"field":"low"},"color":{"field":"tone","type":"nominal","legend":null,"scale":{"domain":["green","grid","lime","cyan","white","lavender","blue","maroon","red","magenta","yellow","gray"],"range":["#008000","#008C00","#00E600","#00FFFF","#FFFFFF","#B4B4E6","#0000FF","#A00000","#FF0000","#FF00FF","#FFFF00","#A0A0B4"]}}}},
{"data":{"name":"tide2"},"mark":{"type":"line","color":"#00E600","strokeWidth":1.2},"encoding":{"detail":{"field":"seg"}}},
{"data":{"name":"blueline"},"mark":{"type":"line","color":"#0000FF","strokeWidth":1.2}},
{"data":{"name":"tide1"},"mark":{"type":"line","color":"#FF0000","strokeWidth":1.2},"encoding":{"detail":{"field":"seg"}}},
{"data":{"name":"ma"},"mark":{"type":"line","color":"#FFFF00","strokeWidth":1.3}},
{"data":{"name":"last"},"mark":{"type":"rule","color":"#FFFF00","strokeWidth":2},"encoding":{"x2":{"field":"bar2"}}},
{"data":{"name":"letters"},"mark":{"type":"text","fontSize":13,"fontWeight":"bold","align":"center","baseline":"middle","font":"Liberation Sans"},"encoding":{"text":{"field":"label"},"color":{"field":"tone","type":"nominal","legend":null,"scale":{"domain":["green","grid","lime","cyan","white","lavender","blue","maroon","red","magenta","yellow","gray"],"range":["#008000","#008C00","#00E600","#00FFFF","#FFFFFF","#B4B4E6","#0000FF","#A00000","#FF0000","#FF00FF","#FFFF00","#A0A0B4"]}}}},
{"data":{"name":"headers"},"mark":{"type":"text","fontSize":16.4,"fontWeight":"bold","align":"left","baseline":"middle","font":"Liberation Sans"},"encoding":{"text":{"field":"label"},"color":{"field":"tone","type":"nominal","legend":null,"scale":{"domain":["green","grid","lime","cyan","white","lavender","blue","maroon","red","magenta","yellow","gray"],"range":["#008000","#008C00","#00E600","#00FFFF","#FFFFFF","#B4B4E6","#0000FF","#A00000","#FF0000","#FF00FF","#FFFF00","#A0A0B4"]}}}},
{"data":{"name":"stamps"},"mark":{"type":"text","fontSize":10.5,"fontWeight":"bold","align":"left","baseline":"middle","color":"#0000E0","font":"Liberation Sans"},"encoding":{"text":{"field":"label"}}}
]}
